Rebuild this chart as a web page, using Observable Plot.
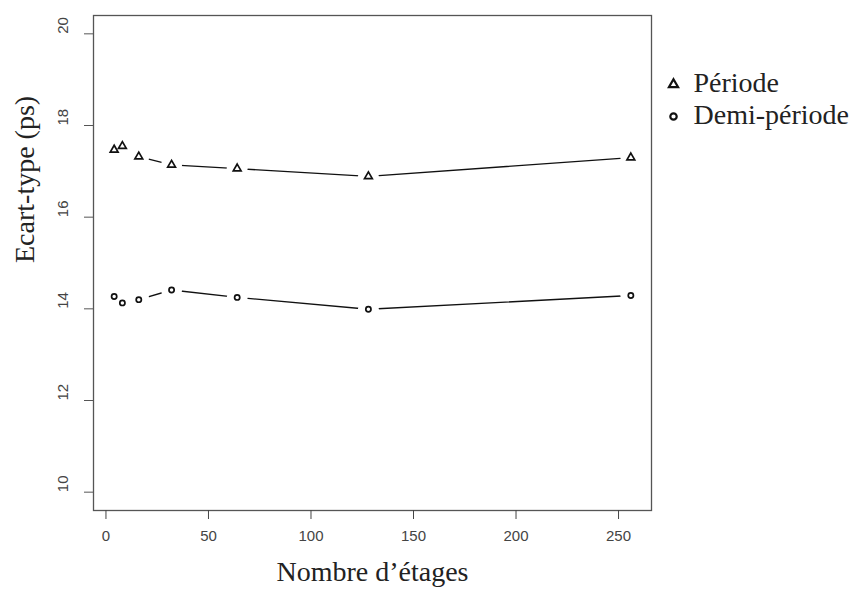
<!DOCTYPE html>
<html>
<head>
<meta charset="utf-8">
<script src="https://cdn.jsdelivr.net/npm/d3@7"></script>
<script src="https://cdn.jsdelivr.net/npm/@observablehq/plot@0.6"></script>
<style>
  html, body { margin: 0; padding: 0; background: #fff; }
  #chart { width: 861px; height: 592px; }
</style>
</head>
<body>
<div id="chart"></div>
<script>
const etages = [4, 8, 16, 32, 64, 128, 256];
const periode = [17.47, 17.55, 17.32, 17.14, 17.06, 16.89, 17.30];
const demiPeriode = [14.27, 14.13, 14.20, 14.41, 14.25, 13.99, 14.29];
const seriesNames = ["Période", "Demi-période"];
const seriesSymbols = ["triangle", "circle"];
const xTicks = [0, 50, 100, 150, 200, 250];
const yTicks = [10, 12, 14, 16, 18, 20];
const xTitle = "Nombre d’étages";
const yTitle = "Ecart-type (ps)";

const data = [];
etages.forEach((e, i) => {
  data.push({series: seriesNames[0], x: e, y: periode[i]});
  data.push({series: seriesNames[1], x: e, y: demiPeriode[i]});
});

const sans = "Liberation Sans, Arial, sans-serif";
const serif = "Liberation Serif, Times New Roman, serif";
const symR = {"triangle": 2.9, "circle": 2.6};
const legR = {"triangle": 3.4, "circle": 3.2};

const marks = [
  Plot.line(data, {x: "x", y: "y", z: "series", stroke: "#111", strokeWidth: 1.4}),
  Plot.dot(data, {x: "x", y: "y", r: 10.5, fill: "white", stroke: null}),
];
seriesNames.forEach((name, i) => {
  marks.push(Plot.dot(data.filter(d => d.series === name), {
    x: "x", y: "y", symbol: () => seriesSymbols[i], r: symR[seriesSymbols[i]],
    fill: "none", stroke: "#111", strokeWidth: 1.7
  }));
  // legend
  marks.push(Plot.dot([name], {
    frameAnchor: "top-right", dx: 22, dy: 69 + 32 * i,
    symbol: () => seriesSymbols[i], r: legR[seriesSymbols[i]],
    fill: "none", stroke: "#111", strokeWidth: 2.2
  }));
  marks.push(Plot.text([name], {
    frameAnchor: "top-right", dx: 42, dy: 68 + 32 * i, text: d => d,
    textAnchor: "start", lineAnchor: "middle",
    fontSize: 28, fontFamily: serif, fill: "#222"
  }));
});

marks.push(
  Plot.frame({stroke: "#555", strokeWidth: 1.3}),
  Plot.axisX({ticks: xTicks, tickSize: 9, tickPadding: 11, fontSize: 15,
              fontFamily: sans, color: "#444", label: null}),
  Plot.axisY({ticks: yTicks, tickSize: 9, tickFormat: () => "", color: "#555", label: null}),
  Plot.text(yTicks, {y: d => d, text: d => String(d), frameAnchor: "left", dx: -30,
                     rotate: -90, fontSize: 15, fontFamily: sans, fill: "#444"}),
  Plot.text([yTitle], {frameAnchor: "left", dx: -68, rotate: -90, text: d => d,
                       lineAnchor: "middle", fontSize: 28, fontFamily: serif, fill: "#222"}),
  Plot.text([xTitle], {frameAnchor: "bottom", dy: 62, text: d => d,
                       lineAnchor: "middle", fontSize: 28, fontFamily: serif, fill: "#222"})
);

const chart = Plot.plot({
  width: 861,
  height: 592,
  marginLeft: 93,
  marginRight: 210,
  marginTop: 15,
  marginBottom: 82,
  x: {domain: [-6.08, 266.08], label: null},
  y: {domain: [9.6, 20.4], label: null},
  style: {background: "white"},
  marks
});
document.getElementById("chart").appendChild(chart);
</script>
</body>
</html>
